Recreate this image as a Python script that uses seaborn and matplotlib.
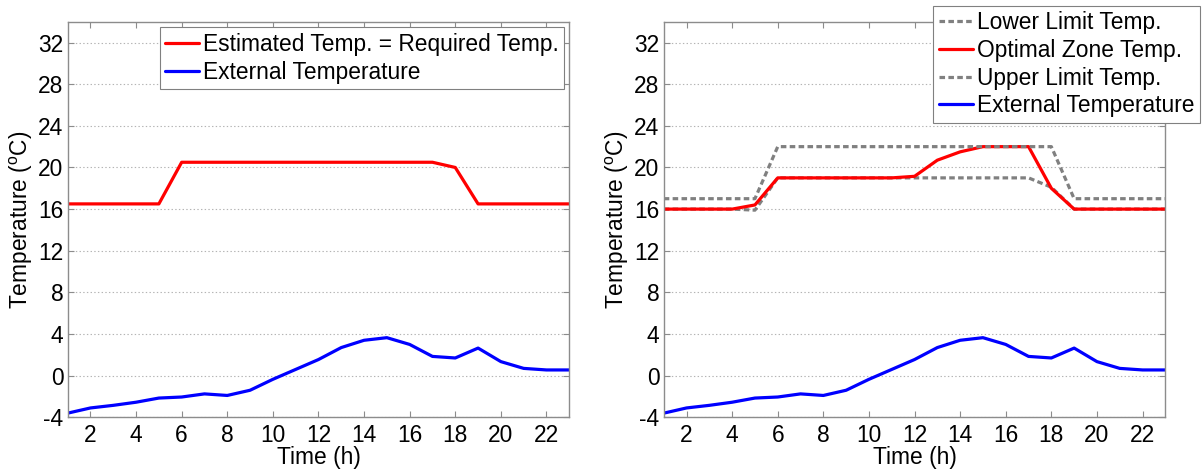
import numpy as np
import pandas as pd
import seaborn as sns
import matplotlib
matplotlib.use("Agg")
import matplotlib.pyplot as plt

# ---------------- data ----------------
hours = list(range(1, 24))
required_temp = [16.5, 16.5, 16.5, 16.5, 16.5,
                 20.5, 20.5, 20.5, 20.5, 20.5, 20.5, 20.5, 20.5, 20.5, 20.5, 20.5, 20.5,
                 20.0,
                 16.5, 16.5, 16.5, 16.5, 16.5]
external_temp = [-3.6, -3.1, -2.85, -2.55, -2.15, -2.05, -1.75, -1.9, -1.4, -0.35, 0.6, 1.55,
                 2.7, 3.4, 3.65, 3.0, 1.85, 1.7, 2.65, 1.35, 0.7, 0.55, 0.55]
lower_limit = [16, 16, 16, 16, 15.9,
               19, 19, 19, 19, 19, 19, 19, 19, 19, 19, 19, 19,
               18.1,
               16, 16, 16, 16, 16]
optimal_temp = [16, 16, 16, 16, 16.4, 19, 19, 19, 19, 19, 19, 19.15, 20.7, 21.5,
                22, 22, 22, 18.0, 16, 16, 16, 16, 16]
upper_limit = [17, 17, 17, 17, 17,
               22, 22, 22, 22, 22, 22, 22, 22, 22, 22, 22, 22, 22,
               17, 17, 17, 17, 17]
x_ticks = list(range(2, 23, 2))
y_ticks = list(range(-4, 33, 4))

left_labels = ["Estimated Temp. = Required Temp.", "External Temperature"]
right_labels = ["Lower Limit Temp.", "Optimal Zone Temp.", "Upper Limit Temp.", "External Temperature"]

# ---------------- style ----------------
sns.set_theme(style="white")
plt.rcParams['font.family'] = ['Liberation Sans', 'DejaVu Sans']
plt.rcParams['mathtext.fontset'] = 'custom'
plt.rcParams['mathtext.rm'] = 'Liberation Sans'
plt.rcParams['mathtext.it'] = 'Liberation Sans'
plt.rcParams['lines.scale_dashes'] = False
plt.rcParams['text.color'] = 'black'
plt.rcParams['axes.labelcolor'] = 'black'
plt.rcParams['xtick.color'] = 'black'
plt.rcParams['ytick.color'] = 'black'

FS = 16.4
SPINE = '#8c8c8c'
GREY = '#808080'
LW = 2.3

fig = plt.figure(figsize=(12.02, 4.69), dpi=100)
ax1 = fig.add_axes([0.0563, 0.1102, 0.4173, 0.8435])
ax2 = fig.add_axes([0.5522, 0.1102, 0.4173, 0.8435])

df_left = pd.DataFrame({"h": hours, "req": required_temp, "ext": external_temp})
df_right = pd.DataFrame({"h": hours, "low": lower_limit, "opt": optimal_temp,
                         "up": upper_limit, "ext": external_temp})

# left
sns.lineplot(data=df_left, x="h", y="req", ax=ax1, color=(1, 0, 0), lw=LW, label=left_labels[0])
sns.lineplot(data=df_left, x="h", y="ext", ax=ax1, color=(0, 0, 1), lw=LW, label=left_labels[1])

# right
sns.lineplot(data=df_right, x="h", y="low", ax=ax2, color=GREY, lw=LW, label=right_labels[0])
ax2.lines[-1].set_dashes((4.0, 2.4))
sns.lineplot(data=df_right, x="h", y="opt", ax=ax2, color=(1, 0, 0), lw=LW, label=right_labels[1])
sns.lineplot(data=df_right, x="h", y="up", ax=ax2, color=GREY, lw=LW, label=right_labels[2])
ax2.lines[-1].set_dashes((4.0, 2.4))
sns.lineplot(data=df_right, x="h", y="ext", ax=ax2, color=(0, 0, 1), lw=LW, label=right_labels[3])

for ax in (ax1, ax2):
    ax.set_xlim(1, 23)
    ax.set_ylim(-4, 34)
    ax.set_xticks(x_ticks)
    ax.set_yticks(y_ticks)
    ax.set_xticklabels([str(t) for t in x_ticks])
    ax.set_yticklabels([str(t) for t in y_ticks])
    ax.tick_params(axis='both', which='major', direction='in', length=4, width=0.8,
                   color=SPINE, labelsize=FS, labelcolor='black',
                   top=True, right=True, bottom=True, left=True)
    ax.tick_params(axis='x', pad=5)
    ax.tick_params(axis='y', pad=3)
    for s in ax.spines.values():
        s.set_visible(True)
        s.set_color(SPINE)
        s.set_linewidth(1.0)
    ax.grid(axis='y', linestyle=':', color='#b4b4b4', lw=0.8)
    ax.grid(axis='x', visible=False)
    ax.set_axisbelow(True)
    ax.set_xlabel("Time (h)", fontsize=FS, labelpad=-1, color='black')
    ax.set_ylabel(r"Temperature ($\mathregular{^{o}}$C)", fontsize=FS, labelpad=2, color='black')

leg_kw = dict(fontsize=FS, frameon=True, fancybox=False, framealpha=1, edgecolor=GREY,
              borderpad=0.25, labelspacing=0.2, handlelength=1.5, handletextpad=0.15,
              borderaxespad=0)
l1 = ax1.legend(loc='upper right', bbox_to_anchor=(0.990, 0.986), **leg_kw)
l2 = ax2.legend(loc='upper right', bbox_to_anchor=(0.9983, 0.9878),
                bbox_transform=fig.transFigure, **leg_kw)
for l in (l1, l2):
    l.get_frame().set_linewidth(0.8)
    for t in l.get_texts():
        t.set_color('black')

fig.savefig("out.png", dpi=100)
